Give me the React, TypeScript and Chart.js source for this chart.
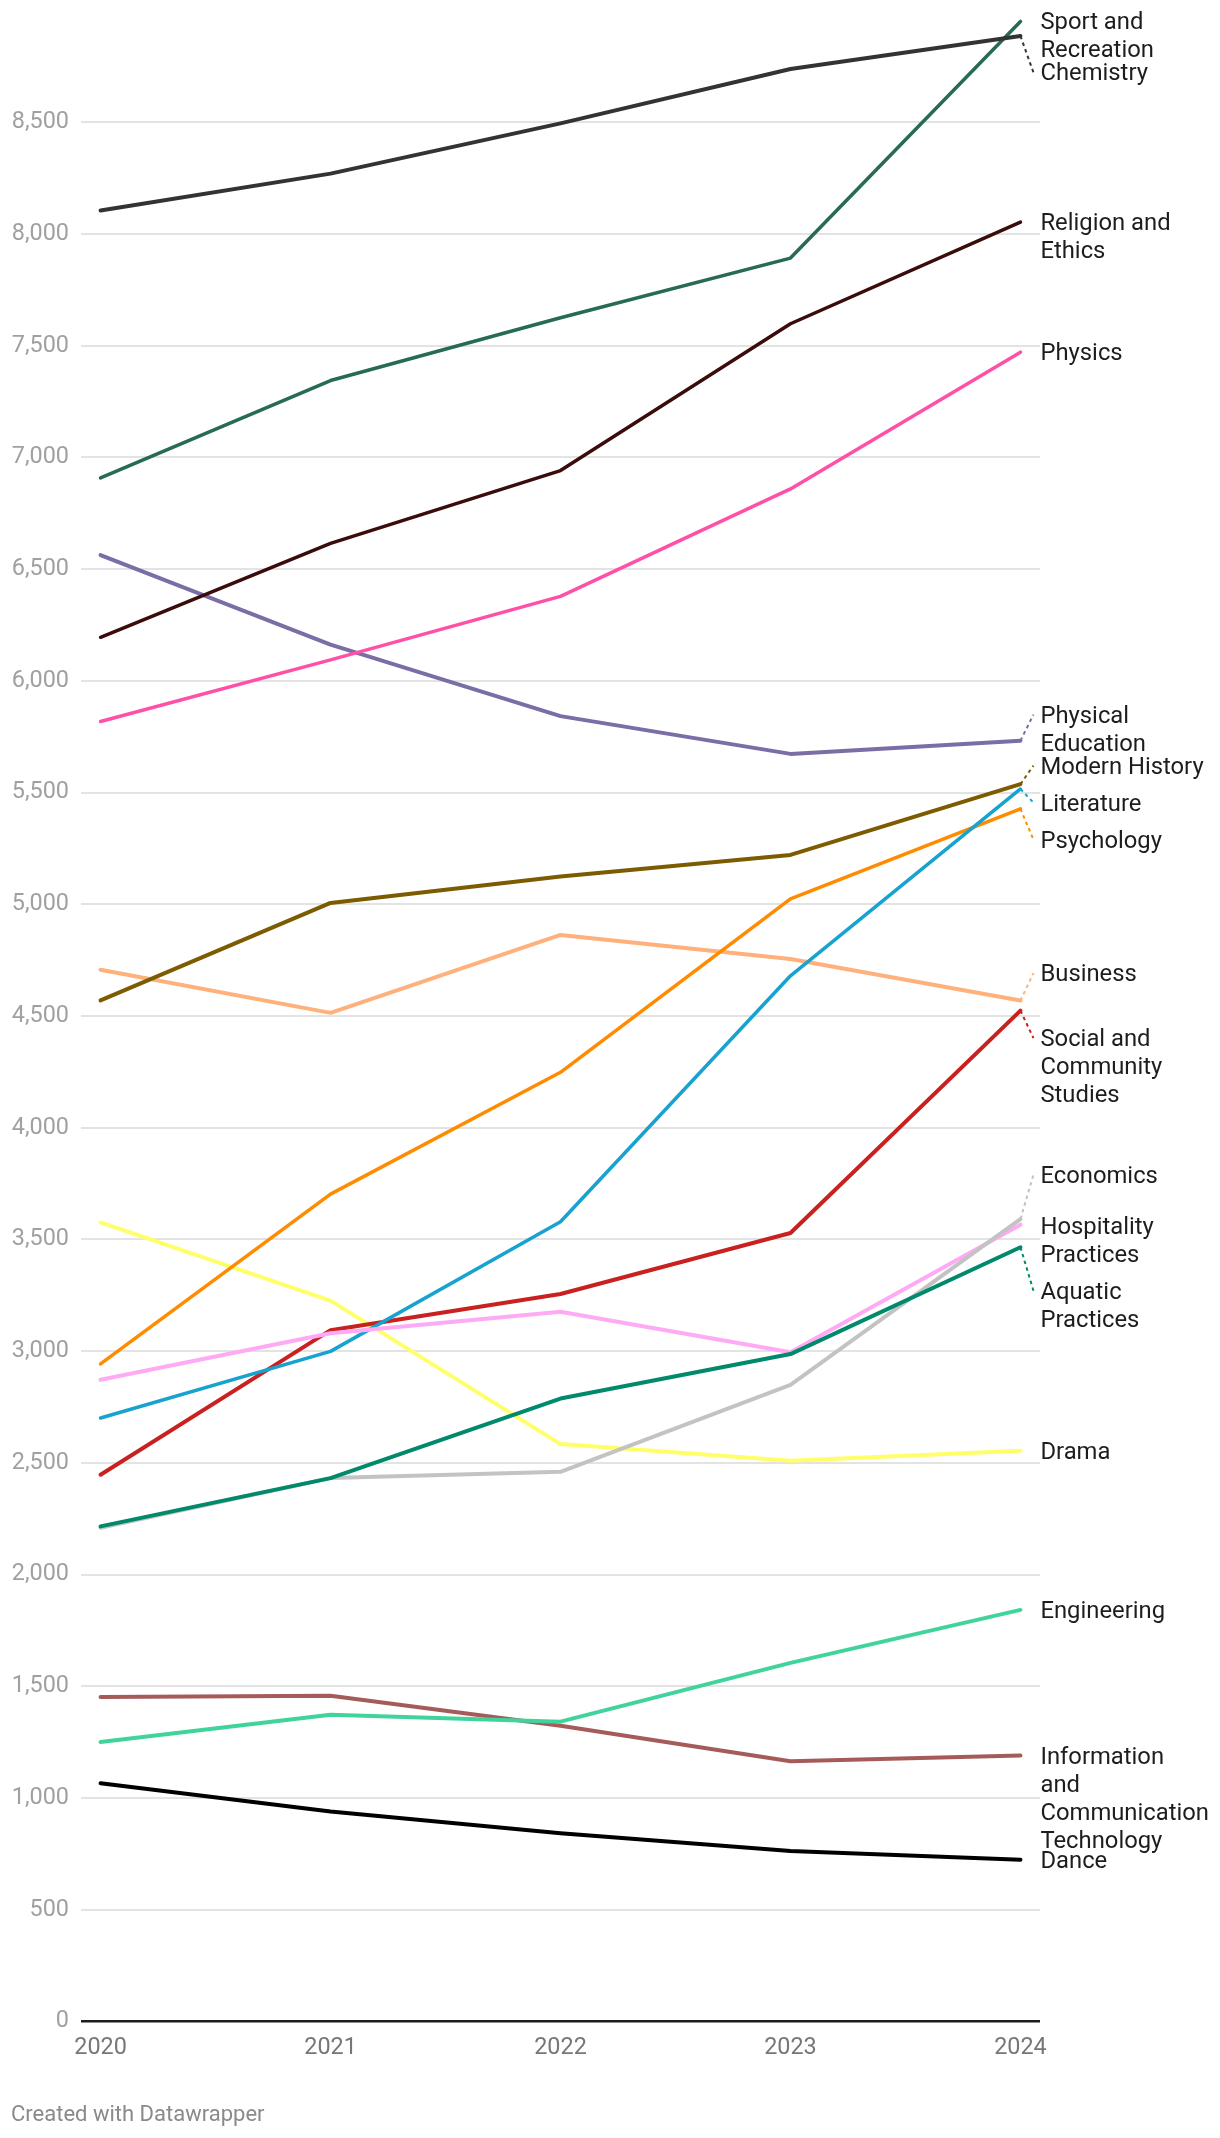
import React, { useEffect, useRef } from "react";
import { Chart, registerables } from "chart.js";

Chart.register(...registerables);

// ---------- data ----------
const YEARS = [2020, 2021, 2022, 2023, 2024];
const Y_TICKS = [0, 500, 1000, 1500, 2000, 2500, 3000, 3500, 4000, 4500, 5000, 5500, 6000, 6500, 7000, 7500, 8000, 8500];

const CHEMISTRY = [8105, 8270, 8495, 8738, 8886];
const SPORT_RECREATION = [6908, 7344, 7625, 7892, 8951];
const RELIGION_ETHICS = [6195, 6615, 6941, 7598, 8053];
const PHYSICS = [5818, 6094, 6378, 6859, 7471];
const PHYSICAL_EDUCATION = [6563, 6162, 5842, 5673, 5732];
const MODERN_HISTORY = [4570, 5006, 5124, 5221, 5538];
const LITERATURE = [2701, 2999, 3579, 4680, 5516];
const PSYCHOLOGY = [2943, 3703, 4248, 5024, 5427];
const BUSINESS = [4707, 4514, 4863, 4755, 4569];
const SOCIAL_COMMUNITY = [2447, 3094, 3256, 3529, 4524];
const ECONOMICS = [2210, 2432, 2460, 2849, 3591];
const HOSPITALITY = [2872, 3080, 3176, 2995, 3566];
const AQUATIC = [2216, 2432, 2788, 2987, 3465];
const DRAMA = [3576, 3226, 2584, 2510, 2554];
const ENGINEERING = [1251, 1373, 1342, 1605, 1842];
const ICT = [1452, 1458, 1324, 1165, 1190];
const DANCE = [1066, 940, 842, 763, 724];

// label lines + values (dataset 0 is drawn on top)
const SERIES = [
  { key: "dance", lines: ["Dance"], values: DANCE },
  { key: "chem", lines: ["Chemistry"], values: CHEMISTRY },
  { key: "aquatic", lines: ["Aquatic", "Practices"], values: AQUATIC },
  { key: "econ", lines: ["Economics"], values: ECONOMICS },
  { key: "hosp", lines: ["Hospitality", "Practices"], values: HOSPITALITY },
  { key: "lit", lines: ["Literature"], values: LITERATURE },
  { key: "social", lines: ["Social and", "Community", "Studies"], values: SOCIAL_COMMUNITY },
  { key: "psych", lines: ["Psychology"], values: PSYCHOLOGY },
  { key: "modhist", lines: ["Modern History"], values: MODERN_HISTORY },
  { key: "business", lines: ["Business"], values: BUSINESS },
  { key: "drama", lines: ["Drama"], values: DRAMA },
  { key: "sport", lines: ["Sport and", "Recreation"], values: SPORT_RECREATION },
  { key: "religion", lines: ["Religion and", "Ethics"], values: RELIGION_ETHICS },
  { key: "physics", lines: ["Physics"], values: PHYSICS },
  { key: "physed", lines: ["Physical", "Education"], values: PHYSICAL_EDUCATION },
  { key: "eng", lines: ["Engineering"], values: ENGINEERING },
  { key: "ict", lines: ["Information", "and", "Communication", "Technology"], values: ICT },
];

// ---------- styles ----------
const COLORS: Record<string, string> = {
  dance: "#000000",
  chem: "#333333",
  aquatic: "#00896b",
  econ: "#c3c3c3",
  hosp: "#ffaaf4",
  lit: "#18a2cf",
  social: "#c92020",
  psych: "#ff8c00",
  modhist: "#7d5b00",
  business: "#ffb17c",
  drama: "#ffff6a",
  sport: "#276a56",
  religion: "#3a0c0c",
  physics: "#ff50a8",
  physed: "#7b6da5",
  eng: "#40d49c",
  ict: "#a65b5b",
};
const WIDTHS: Record<string, number> = {
  dance: 4, chem: 4, aquatic: 4, econ: 4, hosp: 4, lit: 3.5, social: 4, psych: 3.5,
  modhist: 4, business: 4, drama: 4, sport: 3.5, religion: 3.5, physics: 3.5,
  physed: 4, eng: 4, ict: 4,
};

const FONT = "Roboto, 'Noto Sans', sans-serif";
const FS = 23.8;
const TICK_FS = 23.4;
const LH = 28;
const GAP = 9;

const labelPlugin = {
  id: "endLabels",
  afterDatasetsDraw(chart: any) {
    const { ctx, scales, chartArea } = chart;
    const xs = scales.x;
    const ys = scales.y;
    const xEnd = xs.getPixelForValue(YEARS[YEARS.length - 1]);
    const items = SERIES.map((s) => {
      const anchor = ys.getPixelForValue(s.values[s.values.length - 1]);
      return { s, anchor, h: s.lines.length * LH, c: anchor };
    }).sort((a, b) => a.anchor - b.anchor);

    // cluster-based overlap resolution
    type Cl = { items: any[]; start: number; offs: number[] };
    const place = (cl: Cl) => {
      const offs: number[] = [0];
      for (let k = 1; k < cl.items.length; k++) {
        offs.push(offs[k - 1] + cl.items[k - 1].h / 2 + GAP + cl.items[k].h / 2);
      }
      let sum = 0;
      cl.items.forEach((it, k) => (sum += it.anchor - offs[k]));
      cl.offs = offs;
      cl.start = sum / cl.items.length;
      const minStart = chartArea.top + 11;
      if (cl.start < minStart) cl.start = minStart;
    };
    const top = (cl: Cl) => cl.start - cl.items[0].h / 2;
    const bottom = (cl: Cl) => cl.start + cl.offs[cl.offs.length - 1] + cl.items[cl.items.length - 1].h / 2;
    const clusters: Cl[] = [];
    for (const it of items) {
      const cl: Cl = { items: [it], start: 0, offs: [] };
      place(cl);
      clusters.push(cl);
      while (clusters.length > 1) {
        const a = clusters[clusters.length - 2];
        const b = clusters[clusters.length - 1];
        if (bottom(a) + GAP > top(b)) {
          const m: Cl = { items: a.items.concat(b.items), start: 0, offs: [] };
          place(m);
          clusters.splice(clusters.length - 2, 2, m);
        } else break;
      }
    }
    clusters.forEach((cl) => cl.items.forEach((it, k) => (it.c = cl.start + cl.offs[k])));

    ctx.save();
    ctx.font = `${FS}px ${FONT}`;
    ctx.textBaseline = "middle";
    ctx.textAlign = "left";
    for (const it of items) {
      const color = COLORS[it.s.key];
      if (Math.abs(it.c - it.anchor) > 3) {
        ctx.save();
        ctx.strokeStyle = color;
        ctx.lineWidth = 2;
        ctx.setLineDash([3.5, 3.5]);
        ctx.beginPath();
        ctx.moveTo(xEnd, it.anchor);
        ctx.lineTo(xEnd + 13, it.c);
        ctx.stroke();
        ctx.restore();
      }
      ctx.fillStyle = "#1d1d1d";
      it.s.lines.forEach((ln: string, k: number) => {
        ctx.fillText(ln, xEnd + 20, it.c + 2 + k * LH);
      });
    }
    ctx.restore();
  },
};

export default function App() {
  const ref = useRef<HTMLCanvasElement>(null);
  useEffect(() => {
    if (!ref.current) return;
    Chart.defaults.font.family = FONT;
    const chart = new Chart(ref.current, {
      type: "line",
      data: {
        datasets: SERIES.map((s) => ({
          label: s.lines.join(" "),
          data: s.values.map((v, i) => ({ x: YEARS[i], y: v })),
          borderColor: COLORS[s.key],
          backgroundColor: COLORS[s.key],
          borderWidth: WIDTHS[s.key],
          pointRadius: 0,
          pointHoverRadius: 0,
          tension: 0,
          borderCapStyle: "round",
          borderJoinStyle: "round",
          fill: false,
        })),
      },
      options: {
        responsive: false,
        animation: false,
        events: [],
        layout: { padding: { top: 10.5, right: 180, left: 0, bottom: 0 } },
        plugins: { legend: { display: false }, tooltip: { enabled: false } },
        scales: {
          x: {
            type: "linear",
            min: 2020 - 0.085,
            max: 2024 + 0.085,
            grid: { display: false, drawTicks: false, tickLength: 0 },
            border: { display: false },
            ticks: {
              font: { size: TICK_FS, family: FONT },
              color: "#777777",
              padding: 13,
              maxRotation: 0,
              autoSkip: false,
              callback: (v: any) => String(v),
            },
            afterBuildTicks: (axis: any) => {
              axis.ticks = YEARS.map((v) => ({ value: v }));
            },
            afterFit: (s: any) => {
              s.height = 116.5;
              s.paddingLeft = 0;
              s.paddingRight = 0;
            },
          },
          y: {
            type: "linear",
            min: 0,
            max: 9000,
            grid: {
              drawTicks: false,
              tickLength: 0,
              color: (c: any) => (c.tick && c.tick.value === 0 ? "#1d1d1d" : "#e3e3e3"),
              lineWidth: (c: any) => (c.tick && c.tick.value === 0 ? 2.5 : 2),
            },
            border: { display: false },
            ticks: {
              font: { size: TICK_FS, family: FONT },
              color: "#a0a0a0",
              padding: 12,
              autoSkip: false,
              callback: (v: any) => Number(v).toLocaleString("en-US"),
            },
            afterBuildTicks: (axis: any) => {
              axis.ticks = Y_TICKS.map((v) => ({ value: v }));
            },
            afterFit: (s: any) => {
              s.width = 81;
              s.paddingTop = 0;
              s.paddingBottom = 0;
            },
          },
        },
      },
      plugins: [labelPlugin],
    } as any);
    return () => chart.destroy();
  }, []);

  return (
    <div style={{ position: "absolute", left: 0, top: 0, width: 1220, height: 2138, background: "#fff" }}>
      <canvas ref={ref} width={1220} height={2138} style={{ display: "block" }} />
      <div
        style={{
          position: "absolute",
          left: 11,
          top: 2101,
          fontFamily: FONT,
          fontSize: 22,
          lineHeight: "26px",
          color: "#8a8a8a",
          whiteSpace: "nowrap",
        }}
      >
        Created with Datawrapper
      </div>
    </div>
  );
}
